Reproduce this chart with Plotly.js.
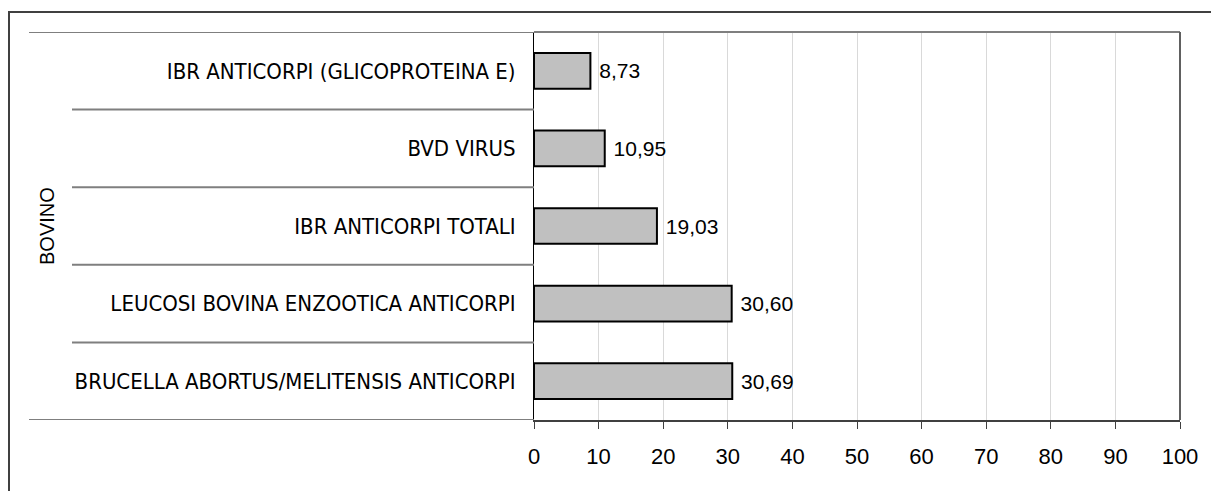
<!DOCTYPE html>
<html>
<head>
<meta charset="utf-8">
<script src="https://cdn.plot.ly/plotly-3.0.1.min.js"></script>
<style>html,body{margin:0;padding:0;background:#fff;}#chart{width:1211px;height:491px;}</style>
</head>
<body>
<div id="chart"></div>
<script>
// Data (bottom to top)
var categories = [
  "BRUCELLA ABORTUS/MELITENSIS ANTICORPI",
  "LEUCOSI BOVINA ENZOOTICA ANTICORPI",
  "IBR ANTICORPI TOTALI",
  "BVD VIRUS",
  "IBR ANTICORPI (GLICOPROTEINA E)"
];
var values = [30.69, 30.60, 19.03, 10.95, 8.73];
var groupLabel = "BOVINO";
var xTicks = [0, 10, 20, 30, 40, 50, 60, 70, 80, 90, 100];

var SANS = "'Liberation Sans', Arial, sans-serif";
var NARROW = "'Liberation Sans Narrow', 'Arial Narrow', 'DejaVu Sans Condensed', sans-serif";

// Layout geometry helpers (pixels -> paper)
var W = 1211, H = 491;
var L = 534, R = 1180, T = 32, B = 420;
function px(x) { return (x - L) / (R - L); }
function py(y) { return (B - y) / (B - T); }

var shapes = [];
// outer frame
shapes.push({type: 'rect', xref: 'paper', yref: 'paper', x0: px(9), x1: px(1260), y0: py(12), y1: py(560),
  line: {color: '#404040', width: 2}, fillcolor: 'rgba(0,0,0,0)', layer: 'below'});
// category separators
for (var i = 0; i <= categories.length; i++) {
  var outer = (i === 0 || i === categories.length);
  shapes.push({type: 'line', xref: 'paper', yref: 'y', x0: px(outer ? 29 : 72), x1: 0,
    y0: i - 0.5, y1: i - 0.5, line: {color: '#7f7f7f', width: 2}});
}
// top border across plot
shapes.push({type: 'line', xref: 'paper', yref: 'paper', x0: 0, x1: 1, y0: 1, y1: 1,
  line: {color: '#7f7f7f', width: 2}});
// right border
shapes.push({type: 'line', xref: 'paper', yref: 'paper', x0: 1, x1: 1, y0: 0, y1: 1,
  line: {color: '#606060', width: 2}});

var trace = {
  type: 'bar',
  orientation: 'h',
  y: categories,
  x: values,
  width: 0.46,
  marker: {color: '#c0c0c0', line: {color: '#000000', width: 2}},
  texttemplate: '\u00a0%{x:.2f}',
  textposition: 'outside',
  cliponaxis: false,
  constraintext: 'none',
  textfont: {family: SANS, size: 21, color: '#000'},
  hoverinfo: 'none'
};

var layout = {
  width: W, height: H,
  margin: {l: L, r: W - R, t: T, b: H - B, pad: 0},
  separators: ',.',
  paper_bgcolor: '#ffffff',
  plot_bgcolor: '#ffffff',
  showlegend: false,
  font: {family: SANS, color: '#000'},
  xaxis: {
    range: [0, 100],
    tickvals: xTicks,
    ticktext: xTicks.map(String),
    showgrid: true,
    gridcolor: '#d9d9d9',
    gridwidth: 1,
    zeroline: false,
    showline: true,
    linecolor: '#404040',
    linewidth: 2,
    ticks: 'outside',
    ticklen: 7,
    tickwidth: 1,
    tickcolor: '#404040',
    ticklabelstandoff: 9,
    tickfont: {family: SANS, size: 22, color: '#000'},
    fixedrange: true
  },
  yaxis: {
    type: 'category',
    range: [-0.5, categories.length - 0.5],
    showgrid: false,
    zeroline: false,
    showline: true,
    linecolor: '#000000',
    linewidth: 1,
    ticks: '',
    ticklabelstandoff: 13,
    tickfont: {family: NARROW, size: 22, color: '#000'},
    fixedrange: true
  },
  shapes: shapes,
  annotations: [{
    text: groupLabel,
    xref: 'paper', yref: 'paper',
    x: px(47), y: 0.5,
    xanchor: 'center', yanchor: 'middle',
    textangle: -90,
    showarrow: false,
    font: {family: SANS, size: 20, color: '#000'}
  }]
};

Plotly.newPlot('chart', [trace], layout, {displayModeBar: false, staticPlot: true});
</script>
</body>
</html>
